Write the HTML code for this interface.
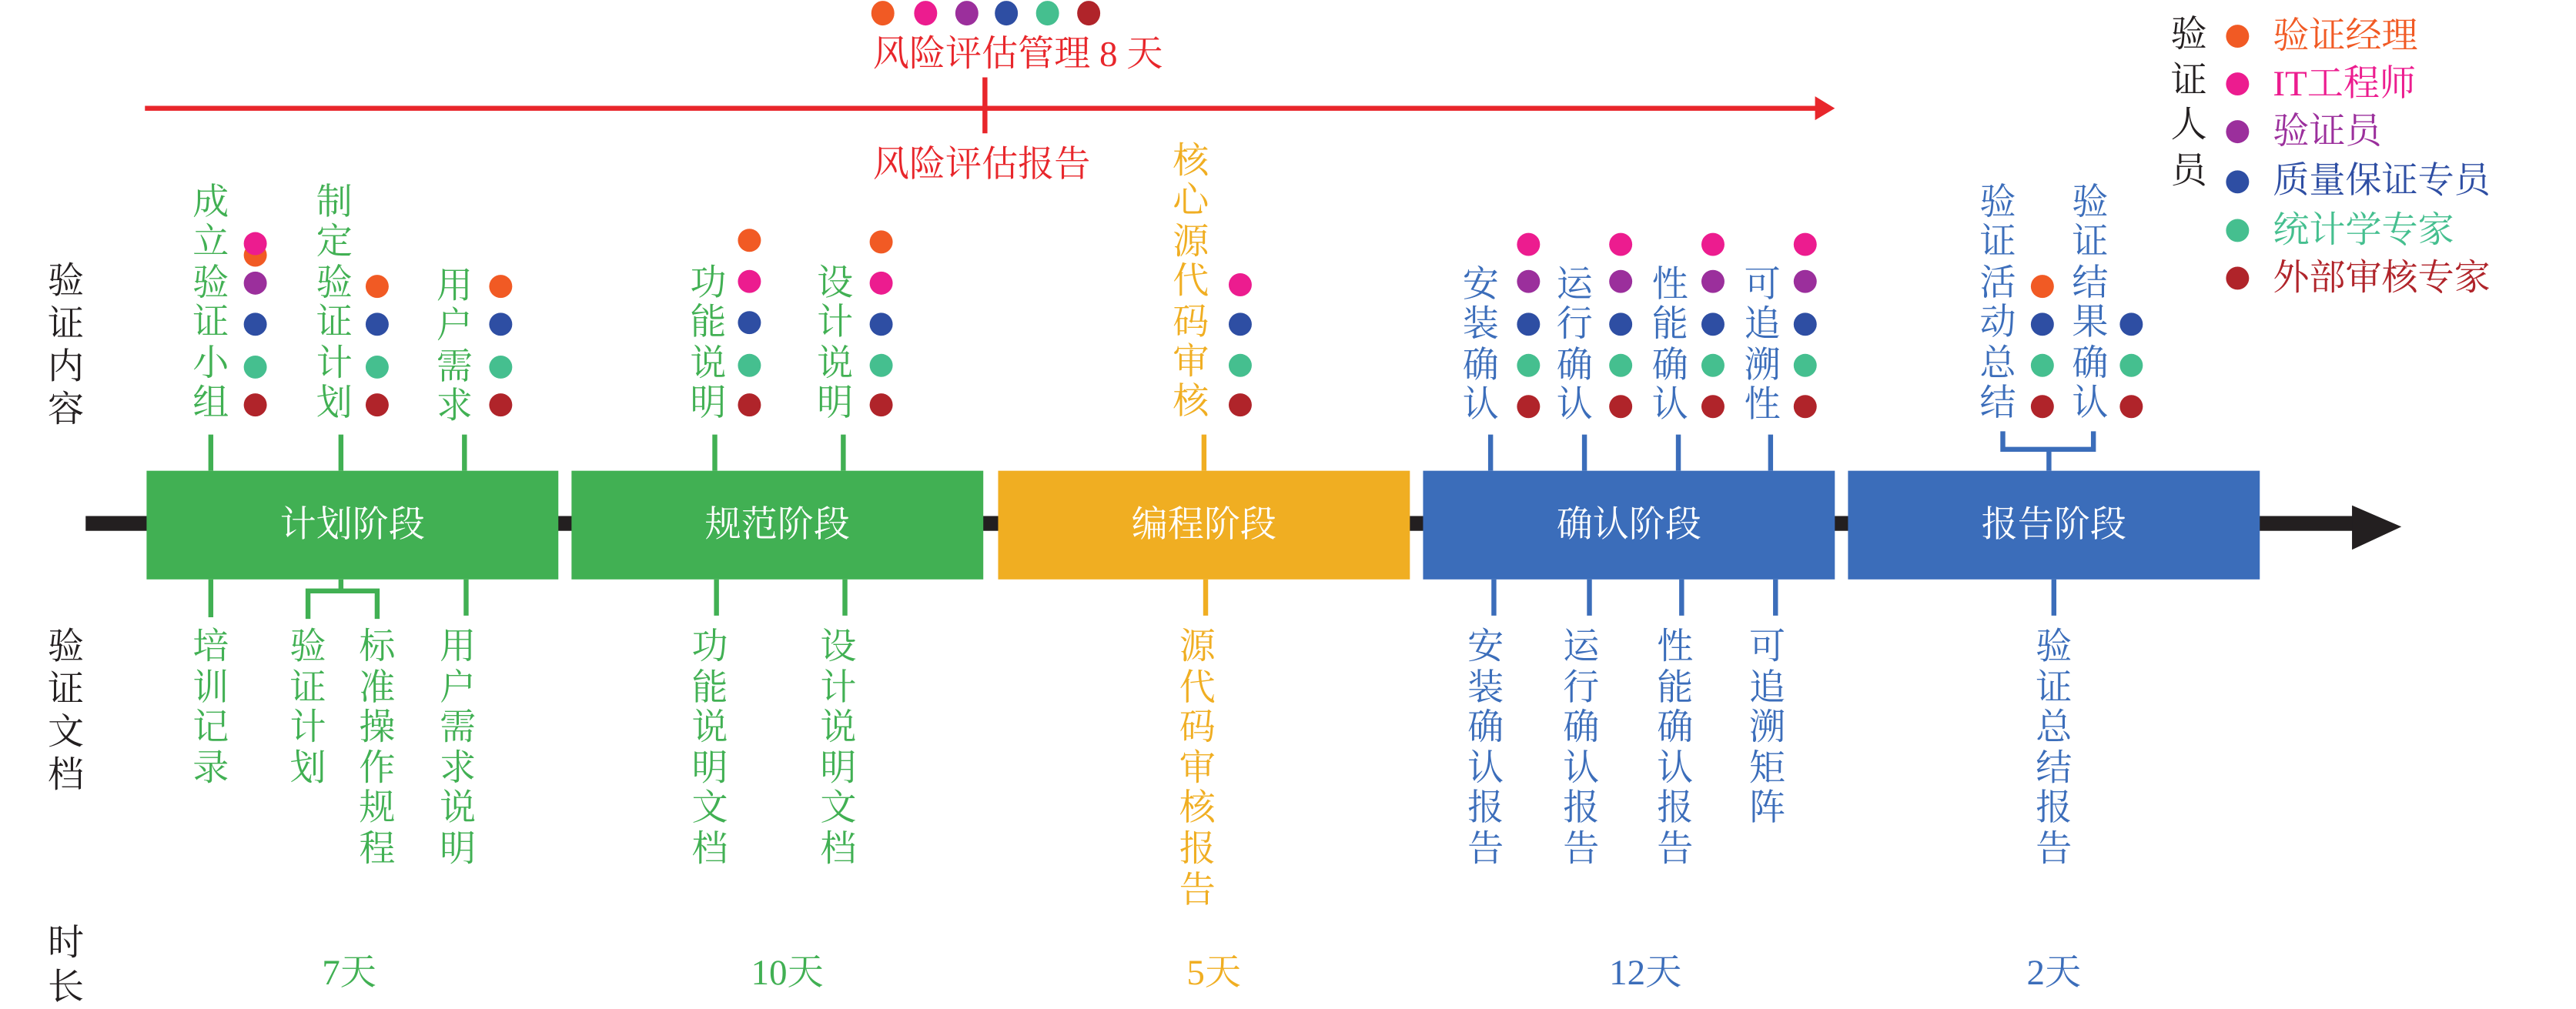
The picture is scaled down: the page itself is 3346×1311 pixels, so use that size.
<!DOCTYPE html>
<html><head><meta charset="utf-8">
<style>
html,body{margin:0;padding:0;background:#fff;}
body{width:3346px;height:1311px;overflow:hidden;position:relative;}
#w{position:absolute;left:0;top:0;width:1564px;height:613px;transform-origin:0 0;transform:scale(2.13939,2.13866);font-family:"Liberation Serif","Noto Serif CJK SC",serif;}
svg{position:absolute;left:0;top:0;}
.v{position:absolute;width:24px;font-size:22px;line-height:24.4px;text-align:center;word-break:break-all;}
.d{line-height:24.6px;}
.h{position:absolute;font-size:22px;line-height:24px;white-space:nowrap;}
.g{color:#41b053}.y{color:#f0ae22}.b{color:#3b6dba}.k{color:#231f20}.r{color:#e8262b}
.p{position:absolute;color:#fff;font-size:22px;text-align:center;top:306px;line-height:26px;}
.day{position:absolute;font-size:22px;width:80px;text-align:center;top:574px;}
</style></head><body><div id="w">
<svg width="1564" height="613" viewBox="0 0 1564 613">
<rect x="88" y="64.3" width="1018" height="3" fill="#e8262b"/>
<polygon points="1102,58.5 1114,65.8 1102,73" fill="#e8262b"/>
<rect x="596.5" y="47" width="3" height="34" fill="#e8262b"/>
<g>
<ellipse cx="536" cy="8" rx="7" ry="7.5" fill="#f15a24"/><ellipse cx="562" cy="8" rx="7" ry="7.5" fill="#ec1c8f"/><ellipse cx="587" cy="8" rx="7" ry="7.5" fill="#9b2f9c"/><ellipse cx="611" cy="8" rx="7" ry="7.5" fill="#2e4ea3"/><ellipse cx="636" cy="8" rx="7" ry="7.5" fill="#45bf8f"/><ellipse cx="661" cy="8" rx="7" ry="7.5" fill="#b0242a"/>
</g>
<rect x="52" y="313.5" width="1380" height="9" fill="#231f20"/>
<polygon points="1428,307 1458,320 1428,334" fill="#231f20"/>
<rect x="89" y="286" width="250" height="66" fill="#41b053"/>
<rect x="347" y="286" width="250" height="66" fill="#41b053"/>
<rect x="606" y="286" width="250" height="66" fill="#f0ae22"/>
<rect x="864" y="286" width="250" height="66" fill="#3b6dba"/>
<rect x="1122" y="286" width="250" height="66" fill="#3b6dba"/>
<g stroke-width="3">
<line x1="128" y1="264" x2="128" y2="286" stroke="#41b053"/>
<line x1="207" y1="264" x2="207" y2="286" stroke="#41b053"/>
<line x1="282" y1="264" x2="282" y2="286" stroke="#41b053"/>
<line x1="434" y1="264" x2="434" y2="286" stroke="#41b053"/>
<line x1="512" y1="264" x2="512" y2="286" stroke="#41b053"/>
<line x1="731" y1="264" x2="731" y2="286" stroke="#f0ae22"/>
<line x1="905" y1="264" x2="905" y2="286" stroke="#3b6dba"/>
<line x1="962" y1="264" x2="962" y2="286" stroke="#3b6dba"/>
<line x1="1019" y1="264" x2="1019" y2="286" stroke="#3b6dba"/>
<line x1="1075" y1="264" x2="1075" y2="286" stroke="#3b6dba"/>
<polyline points="1216,262 1216,273 1271,273 1271,262" fill="none" stroke="#3b6dba"/>
<line x1="1244" y1="273" x2="1244" y2="286" stroke="#3b6dba"/>
<line x1="128" y1="352" x2="128" y2="375" stroke="#41b053"/>
<line x1="207" y1="352" x2="207" y2="358" stroke="#41b053"/>
<polyline points="187,376 187,359 229,359 229,376" fill="none" stroke="#41b053"/>
<line x1="283" y1="352" x2="283" y2="374" stroke="#41b053"/>
<line x1="435" y1="352" x2="435" y2="374" stroke="#41b053"/>
<line x1="513" y1="352" x2="513" y2="374" stroke="#41b053"/>
<line x1="732" y1="352" x2="732" y2="374" stroke="#f0ae22"/>
<line x1="907" y1="352" x2="907" y2="374" stroke="#3b6dba"/>
<line x1="965" y1="352" x2="965" y2="374" stroke="#3b6dba"/>
<line x1="1021" y1="352" x2="1021" y2="374" stroke="#3b6dba"/>
<line x1="1078" y1="352" x2="1078" y2="374" stroke="#3b6dba"/>
<line x1="1247" y1="352" x2="1247" y2="374" stroke="#3b6dba"/>
</g>
<g>
<circle cx="155" cy="155" r="7" fill="#f15a24"/><circle cx="155" cy="148" r="7" fill="#ec1c8f"/><circle cx="155" cy="172" r="7" fill="#9b2f9c"/><circle cx="155" cy="197" r="7" fill="#2e4ea3"/><circle cx="155" cy="223" r="7" fill="#45bf8f"/><circle cx="155" cy="246" r="7" fill="#b0242a"/>
<circle cx="229" cy="174" r="7" fill="#f15a24"/><circle cx="229" cy="197" r="7" fill="#2e4ea3"/><circle cx="229" cy="223" r="7" fill="#45bf8f"/><circle cx="229" cy="246" r="7" fill="#b0242a"/>
<circle cx="304" cy="174" r="7" fill="#f15a24"/><circle cx="304" cy="197" r="7" fill="#2e4ea3"/><circle cx="304" cy="223" r="7" fill="#45bf8f"/><circle cx="304" cy="246" r="7" fill="#b0242a"/>
<circle cx="455" cy="146" r="7" fill="#f15a24"/><circle cx="455" cy="171" r="7" fill="#ec1c8f"/><circle cx="455" cy="196" r="7" fill="#2e4ea3"/><circle cx="455" cy="222" r="7" fill="#45bf8f"/><circle cx="455" cy="246" r="7" fill="#b0242a"/>
<circle cx="535" cy="147" r="7" fill="#f15a24"/><circle cx="535" cy="172" r="7" fill="#ec1c8f"/><circle cx="535" cy="197" r="7" fill="#2e4ea3"/><circle cx="535" cy="222" r="7" fill="#45bf8f"/><circle cx="535" cy="246" r="7" fill="#b0242a"/>
<circle cx="753" cy="173" r="7" fill="#ec1c8f"/><circle cx="753" cy="197" r="7" fill="#2e4ea3"/><circle cx="753" cy="222" r="7" fill="#45bf8f"/><circle cx="753" cy="246" r="7" fill="#b0242a"/>
<g id="cd">
<circle cx="928" cy="148.5" r="7" fill="#ec1c8f"/><circle cx="928" cy="171" r="7" fill="#9b2f9c"/><circle cx="928" cy="197" r="7" fill="#2e4ea3"/><circle cx="928" cy="222" r="7" fill="#45bf8f"/><circle cx="928" cy="247" r="7" fill="#b0242a"/>
</g>
<use href="#cd" x="56"/><use href="#cd" x="112"/><use href="#cd" x="168"/>
<circle cx="1240" cy="174" r="7" fill="#f15a24"/><circle cx="1240" cy="197" r="7" fill="#2e4ea3"/><circle cx="1240" cy="222" r="7" fill="#45bf8f"/><circle cx="1240" cy="247" r="7" fill="#b0242a"/>
<circle cx="1294" cy="197" r="7" fill="#2e4ea3"/><circle cx="1294" cy="222" r="7" fill="#45bf8f"/><circle cx="1294" cy="247" r="7" fill="#b0242a"/>
<circle cx="1358.5" cy="22" r="7" fill="#f15a24"/><circle cx="1358.5" cy="51" r="7" fill="#ec1c8f"/><circle cx="1358.5" cy="80" r="7" fill="#9b2f9c"/><circle cx="1358.5" cy="110.5" r="7" fill="#2e4ea3"/><circle cx="1358.5" cy="140" r="7" fill="#45bf8f"/><circle cx="1358.5" cy="169" r="7" fill="#b0242a"/>
</g>
</svg>

<div class="h r" style="left:530px;top:21px;">风险评估管理 8 天</div>
<div class="h r" style="left:530px;top:88px;">风险评估报告</div>

<div class="h" style="left:1380px;top:10px;color:#f15a24">验证经理</div>
<div class="h" style="left:1380px;top:39px;color:#ec1c8f">IT工程师</div>
<div class="h" style="left:1380px;top:68px;color:#9b2f9c">验证员</div>
<div class="h" style="left:1380px;top:98px;color:#2e4ea3">质量保证专员</div>
<div class="h" style="left:1380px;top:128px;color:#45bf8f">统计学专家</div>
<div class="h" style="left:1380px;top:157px;color:#b0242a">外部审核专家</div>
<div class="v k" style="left:1317px;top:7px;line-height:27.5px;">验证人员</div>

<div class="v k" style="left:28px;top:158px;line-height:26px;">验证内容</div>
<div class="v k" style="left:28px;top:380px;line-height:26px;">验证文档</div>
<div class="v k" style="left:28px;top:559px;line-height:27px;">时长</div>

<div class="v g" style="left:116px;top:111px;">成立验证小组</div>
<div class="v g" style="left:191px;top:111px;">制定验证计划</div>
<div class="v g" style="left:264px;top:162px;">用户需求</div>
<div class="v g" style="left:418px;top:160px;">功能说明</div>
<div class="v g" style="left:495px;top:160px;">设计说明</div>
<div class="v y" style="left:711px;top:86px;">核心源代码审核</div>
<div class="v b" style="left:887px;top:161px;">安装确认</div>
<div class="v b" style="left:944px;top:161px;">运行确认</div>
<div class="v b" style="left:1002px;top:161px;">性能确认</div>
<div class="v b" style="left:1058px;top:161px;">可追溯性</div>
<div class="v b" style="left:1201px;top:111px;">验证活动总结</div>
<div class="v b" style="left:1257px;top:111px;">验证结果确认</div>

<div class="p" style="left:89px;width:250px;">计划阶段</div>
<div class="p" style="left:347px;width:250px;">规范阶段</div>
<div class="p" style="left:606px;width:250px;">编程阶段</div>
<div class="p" style="left:864px;width:250px;">确认阶段</div>
<div class="p" style="left:1122px;width:250px;">报告阶段</div>

<div class="v d g" style="left:116px;top:381px;">培训记录</div>
<div class="v d g" style="left:175px;top:381px;">验证计划</div>
<div class="v d g" style="left:217px;top:381px;">标准操作规程</div>
<div class="v d g" style="left:266px;top:381px;">用户需求说明</div>
<div class="v d g" style="left:419px;top:381px;">功能说明文档</div>
<div class="v d g" style="left:497px;top:381px;">设计说明文档</div>
<div class="v d y" style="left:715px;top:381px;">源代码审核报告</div>
<div class="v d b" style="left:890px;top:381px;">安装确认报告</div>
<div class="v d b" style="left:948px;top:381px;">运行确认报告</div>
<div class="v d b" style="left:1005px;top:381px;">性能确认报告</div>
<div class="v d b" style="left:1061px;top:381px;">可追溯矩阵</div>
<div class="v d b" style="left:1235px;top:381px;">验证总结报告</div>

<div class="day g" style="left:172px;">7天</div>
<div class="day g" style="left:438px;">10天</div>
<div class="day y" style="left:697px;">5天</div>
<div class="day b" style="left:959px;">12天</div>
<div class="day b" style="left:1207px;">2天</div>
</div></body></html>
